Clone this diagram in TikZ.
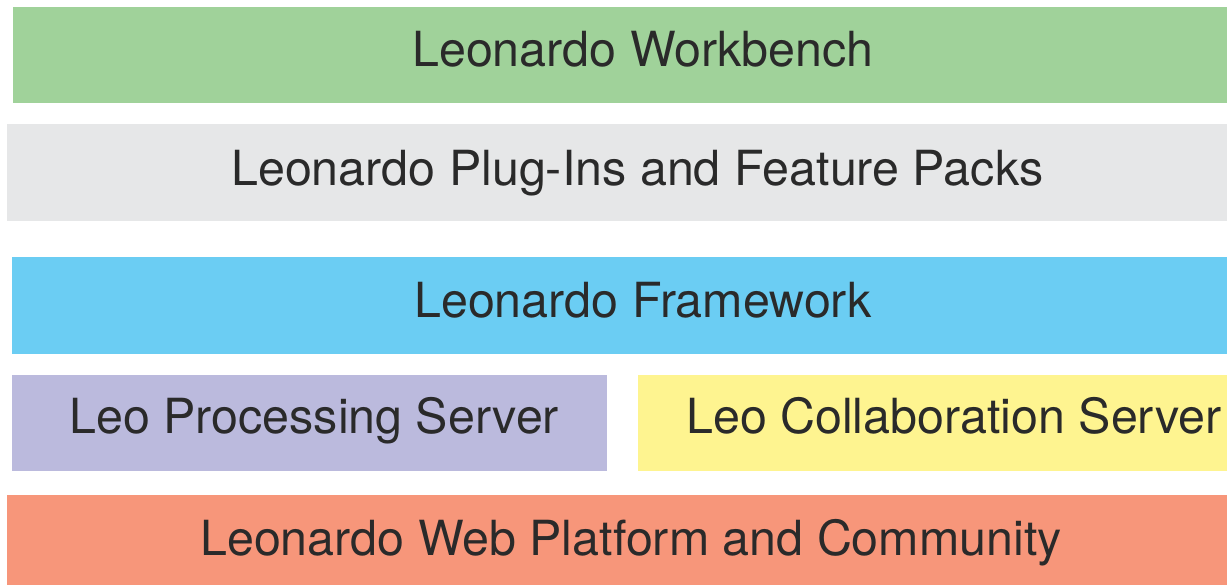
\documentclass[tikz,border=0pt]{standalone}
\usepackage{fontspec}
\setmainfont{TeX Gyre Heros}
\definecolor{cgreen}{HTML}{A0D29A}
\definecolor{cgray}{HTML}{E6E7E8}
\definecolor{cblue}{HTML}{6BCDF3}
\definecolor{cpurple}{HTML}{BBBADD}
\definecolor{cyellow}{HTML}{FEF490}
\definecolor{corange}{HTML}{F7967A}
\definecolor{ctext}{HTML}{2A2A2A}
\tikzset{
  lbl/.style={anchor=base west, inner sep=0pt, text=ctext, font=\fontsize{48.4}{50}\selectfont}
}
\begin{document}
\begin{tikzpicture}[x=1pt,y=-1pt]
\useasboundingbox (0,0) rectangle (1227,585);
\fill[white] (0,0) rectangle (1227,585);
% layers
\fill[cgreen]  (13,7)   rectangle (1227,103);
\fill[cgray]   (7,124)  rectangle (1227,221);
\fill[cblue]   (12,257) rectangle (1227,354);
\fill[cpurple] (12,375) rectangle (607,471);
\fill[cyellow] (638,375) rectangle (1227,471);
\fill[corange] (7,495)  rectangle (1227,585);
% labels
\node[lbl] (wb)  at (412,67)  {Leonardo Workbench};
\node[lbl] (pi)  at (231,185.7) {Leonardo Plug-Ins and Feature Packs};
\node[lbl] (fw)  at (414,317.7) {Leonardo Framework};
\node[lbl] (ps)  at (69,434)  {Leo Processing Server};
\node[lbl] (cs)  at (686,433.5) {Leo Collaboration Server};
\node[lbl] (web) at (200,555.7) {Leonardo Web Platform and Community};
\end{tikzpicture}
\end{document}
